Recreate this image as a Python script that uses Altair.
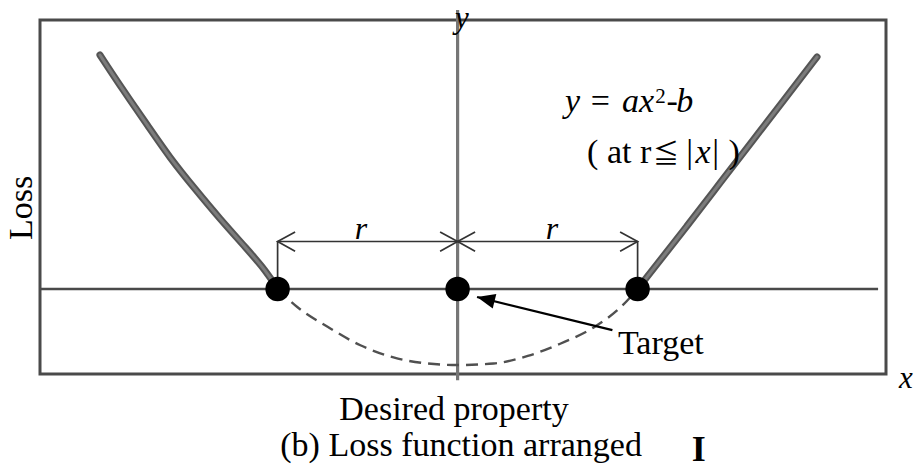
import math
import altair as alt
import pandas as pd

# ---- curve data (units: x in multiples of r, loss in multiples of b) ----
# solid loss curve for r <= |x|, left and right branches
left_x = [-1.987, -1.859, -1.72, -1.598, -1.459, -1.32, -1.17, -1.064, -1.0]
left_y = [3.079, 2.618, 2.145, 1.724, 1.316, 0.921, 0.526, 0.237, 0.0]
right_x = [1.0, 1.087, 1.275, 1.458, 1.642, 1.83, 1.997]
right_y = [0.0, 0.263, 0.829, 1.395, 1.961, 2.539, 3.053]
# dashed part of the parabola inside the band
inner_x = [-1.0, -0.889, -0.72, -0.54, -0.356, -0.167, 0.0, 0.2, 0.39, 0.57, 0.76, 0.91, 1.0]
inner_y = [0.0, -0.24, -0.5, -0.74, -0.9, -0.98, -1.0, -0.98, -0.88, -0.72, -0.5, -0.23, 0.0]
# band edges and target
dot_x = [-1.0, 0.0, 1.0]
dot_y = [0.0, 0.0, 0.0]
dim_y = 0.625

X_DOMAIN = [-2.32, 2.38]
Y_DOMAIN = [-1.118, 3.539]
PX_X = 846 / (X_DOMAIN[1] - X_DOMAIN[0])
PX_Y = 354 / (Y_DOMAIN[1] - Y_DOMAIN[0])

xs = alt.Scale(domain=X_DOMAIN, nice=False, zero=False)
ys = alt.Scale(domain=Y_DOMAIN, nice=False, zero=False)
SERIF = "Liberation Serif"


def xy(chart, xf="x", yf="y"):
    return chart.encode(
        x=alt.X(f"{xf}:Q", scale=xs, axis=None),
        y=alt.Y(f"{yf}:Q", scale=ys, axis=None),
    )


def rules(df, **style):
    return alt.Chart(df).mark_rule(**style).encode(
        x=alt.X("x:Q", scale=xs, axis=None),
        y=alt.Y("y:Q", scale=ys, axis=None),
        x2="x2:Q",
        y2="y2:Q",
    )


def texts(labels, xv, yv, size=34, align="left", style="normal", angle=0,
          baseline="alphabetic", weight="normal", font=SERIF):
    df = pd.DataFrame({"t": labels, "x": xv, "y": yv})
    return xy(alt.Chart(df).mark_text(
        font=font, fontSize=size, align=align, baseline=baseline,
        fontStyle=style, fontWeight=weight, angle=angle, color="black",
    )).encode(text="t:N")


# axes drawn through the origin
axis_lines = rules(
    pd.DataFrame({"x": [X_DOMAIN[0]], "x2": [2.336], "y": [0.0], "y2": [0.0]}),
    color="#4a4a4a", strokeWidth=2.5,
)
y_axis_line = rules(
    pd.DataFrame({"x": [0.0], "x2": [0.0], "y": [3.67], "y2": [-1.2]}),
    color="#767676", strokeWidth=3.2,
)

inner = xy(alt.Chart(pd.DataFrame({"x": inner_x, "y": inner_y})).mark_line(
    color="#505050", strokeWidth=2.4, strokeDash=[12, 7], interpolate="monotone"
))

branches = pd.concat([
    pd.DataFrame({"x": left_x, "y": left_y, "branch": "left", "o": range(len(left_x))}),
    pd.DataFrame({"x": right_x, "y": right_y, "branch": "right", "o": range(len(right_x))}),
])
outer_dark = xy(alt.Chart(branches).mark_line(
    color="#555555", strokeWidth=7, strokeCap="round", interpolate="basis"
)).encode(detail="branch:N", order="o:Q")
outer_light = xy(alt.Chart(branches).mark_line(
    color="#7c7c7c", strokeWidth=3, strokeCap="round", interpolate="basis"
)).encode(detail="branch:N", order="o:Q")

# dimension lines marking r on each side
dim = rules(
    pd.DataFrame({
        "x": [-1.0, -1.0, 1.0],
        "x2": [1.0, -1.0, 1.0],
        "y": [dim_y, dim_y, dim_y],
        "y2": [dim_y, 0.0, 0.0],
    }),
    color="#333333", strokeWidth=1.7,
)
open_head = "M1,-0.55L0,0L1,0.55"
dim_heads = xy(alt.Chart(pd.DataFrame({
    "x": [-1.0, 0.0, 0.0, 1.0],
    "y": [dim_y] * 4,
    "a": [0, 180, 0, 180],
})).mark_point(
    shape=open_head, size=1225, filled=False, stroke="#333333", strokeWidth=1.7, opacity=1
)).encode(angle=alt.Angle("a:Q", scale=None))

dots = xy(alt.Chart(pd.DataFrame({"x": dot_x, "y": dot_y})).mark_point(
    shape="circle", size=600, filled=True, color="black", opacity=1
))

# arrow pointing at the target
arrow_from = (0.86, -0.54)
arrow_to = (0.108, -0.105)
dx_px = (arrow_to[0] - arrow_from[0]) * PX_X
dy_px = -(arrow_to[1] - arrow_from[1]) * PX_Y
arrow_angle = math.degrees(math.atan2(dx_px, -dy_px)) % 360
arrow_line = rules(
    pd.DataFrame({"x": [arrow_from[0]], "y": [arrow_from[1]],
                  "x2": [arrow_to[0]], "y2": [arrow_to[1]]}),
    color="black", strokeWidth=2.2,
)
arrow_head = xy(alt.Chart(pd.DataFrame({
    "x": [arrow_to[0]], "y": [arrow_to[1]], "a": [arrow_angle]
})).mark_point(
    shape="M0,0L0.42,1L-0.42,1Z", size=1296, filled=True, color="black", opacity=1
)).encode(angle=alt.Angle("a:Q", scale=None))

# ---- labels ----
axis_names = texts(["y", "x"], [0.024, 2.49], [3.44, -1.30], size=31,
                   align="center", style="italic")
loss_label = texts(["Loss"], [-2.42], [1.066], size=34, align="center",
                   angle=270, baseline="middle")
xlabel = texts(["Desired property"], [-0.02], [-1.724], size=34, align="center")
caption = texts(["(b) Loss function arranged"], [-0.985], [-2.197], size=34)
caption_no = texts(["I"], [1.34], [-2.263], size=36, align="center", weight="bold")
target = texts(["Target"], [0.891], [-0.855], size=34)
r_labels = texts(["r", "r"], [-0.537, 0.524], [0.66, 0.66], size=32,
                 align="center", style="italic")

# formula y = ax^2 - b  ( at r ≦ |x| )
eq_italic_t = ["y", "ax", "b", "x"]
eq_italic_x = [0.597, 0.913, 1.215, 1.322]
eq_italic_y = [2.329, 2.329, 2.329, 1.658]
eq_plain_t = ["=", "-", "(", "at r", "|", "|", ")"]
eq_plain_x = [0.74, 1.16, 0.719, 0.83, 1.27, 1.415, 1.505]
eq_plain_y = [2.329, 2.329, 1.658, 1.658, 1.658, 1.658, 1.658]
eq_italic = texts(eq_italic_t, eq_italic_x, eq_italic_y, size=34, style="italic")
eq_plain = texts(eq_plain_t, eq_plain_x, eq_plain_y, size=34)
eq_sup = texts(["2"], [1.098], [2.447], size=21)
eq_leq = texts(["≦"], [1.085], [1.658], size=26, font="Noto Sans CJK JP")

chart = alt.layer(
    y_axis_line, axis_lines, inner, outer_dark, outer_light, dim, dim_heads,
    dots, arrow_line, arrow_head, axis_names, loss_label, xlabel, caption,
    caption_no, target, r_labels, eq_italic, eq_plain, eq_sup, eq_leq,
).properties(
    width=846,
    height=354,
    autosize=alt.AutoSizeParams(type="none"),
    padding={"left": 40, "top": 20, "right": 31, "bottom": 101},
    background="white",
).configure_view(
    stroke="#4a4a4a", strokeWidth=3
)

chart.save("out.html", embed_options={"renderer": "svg", "actions": False})
